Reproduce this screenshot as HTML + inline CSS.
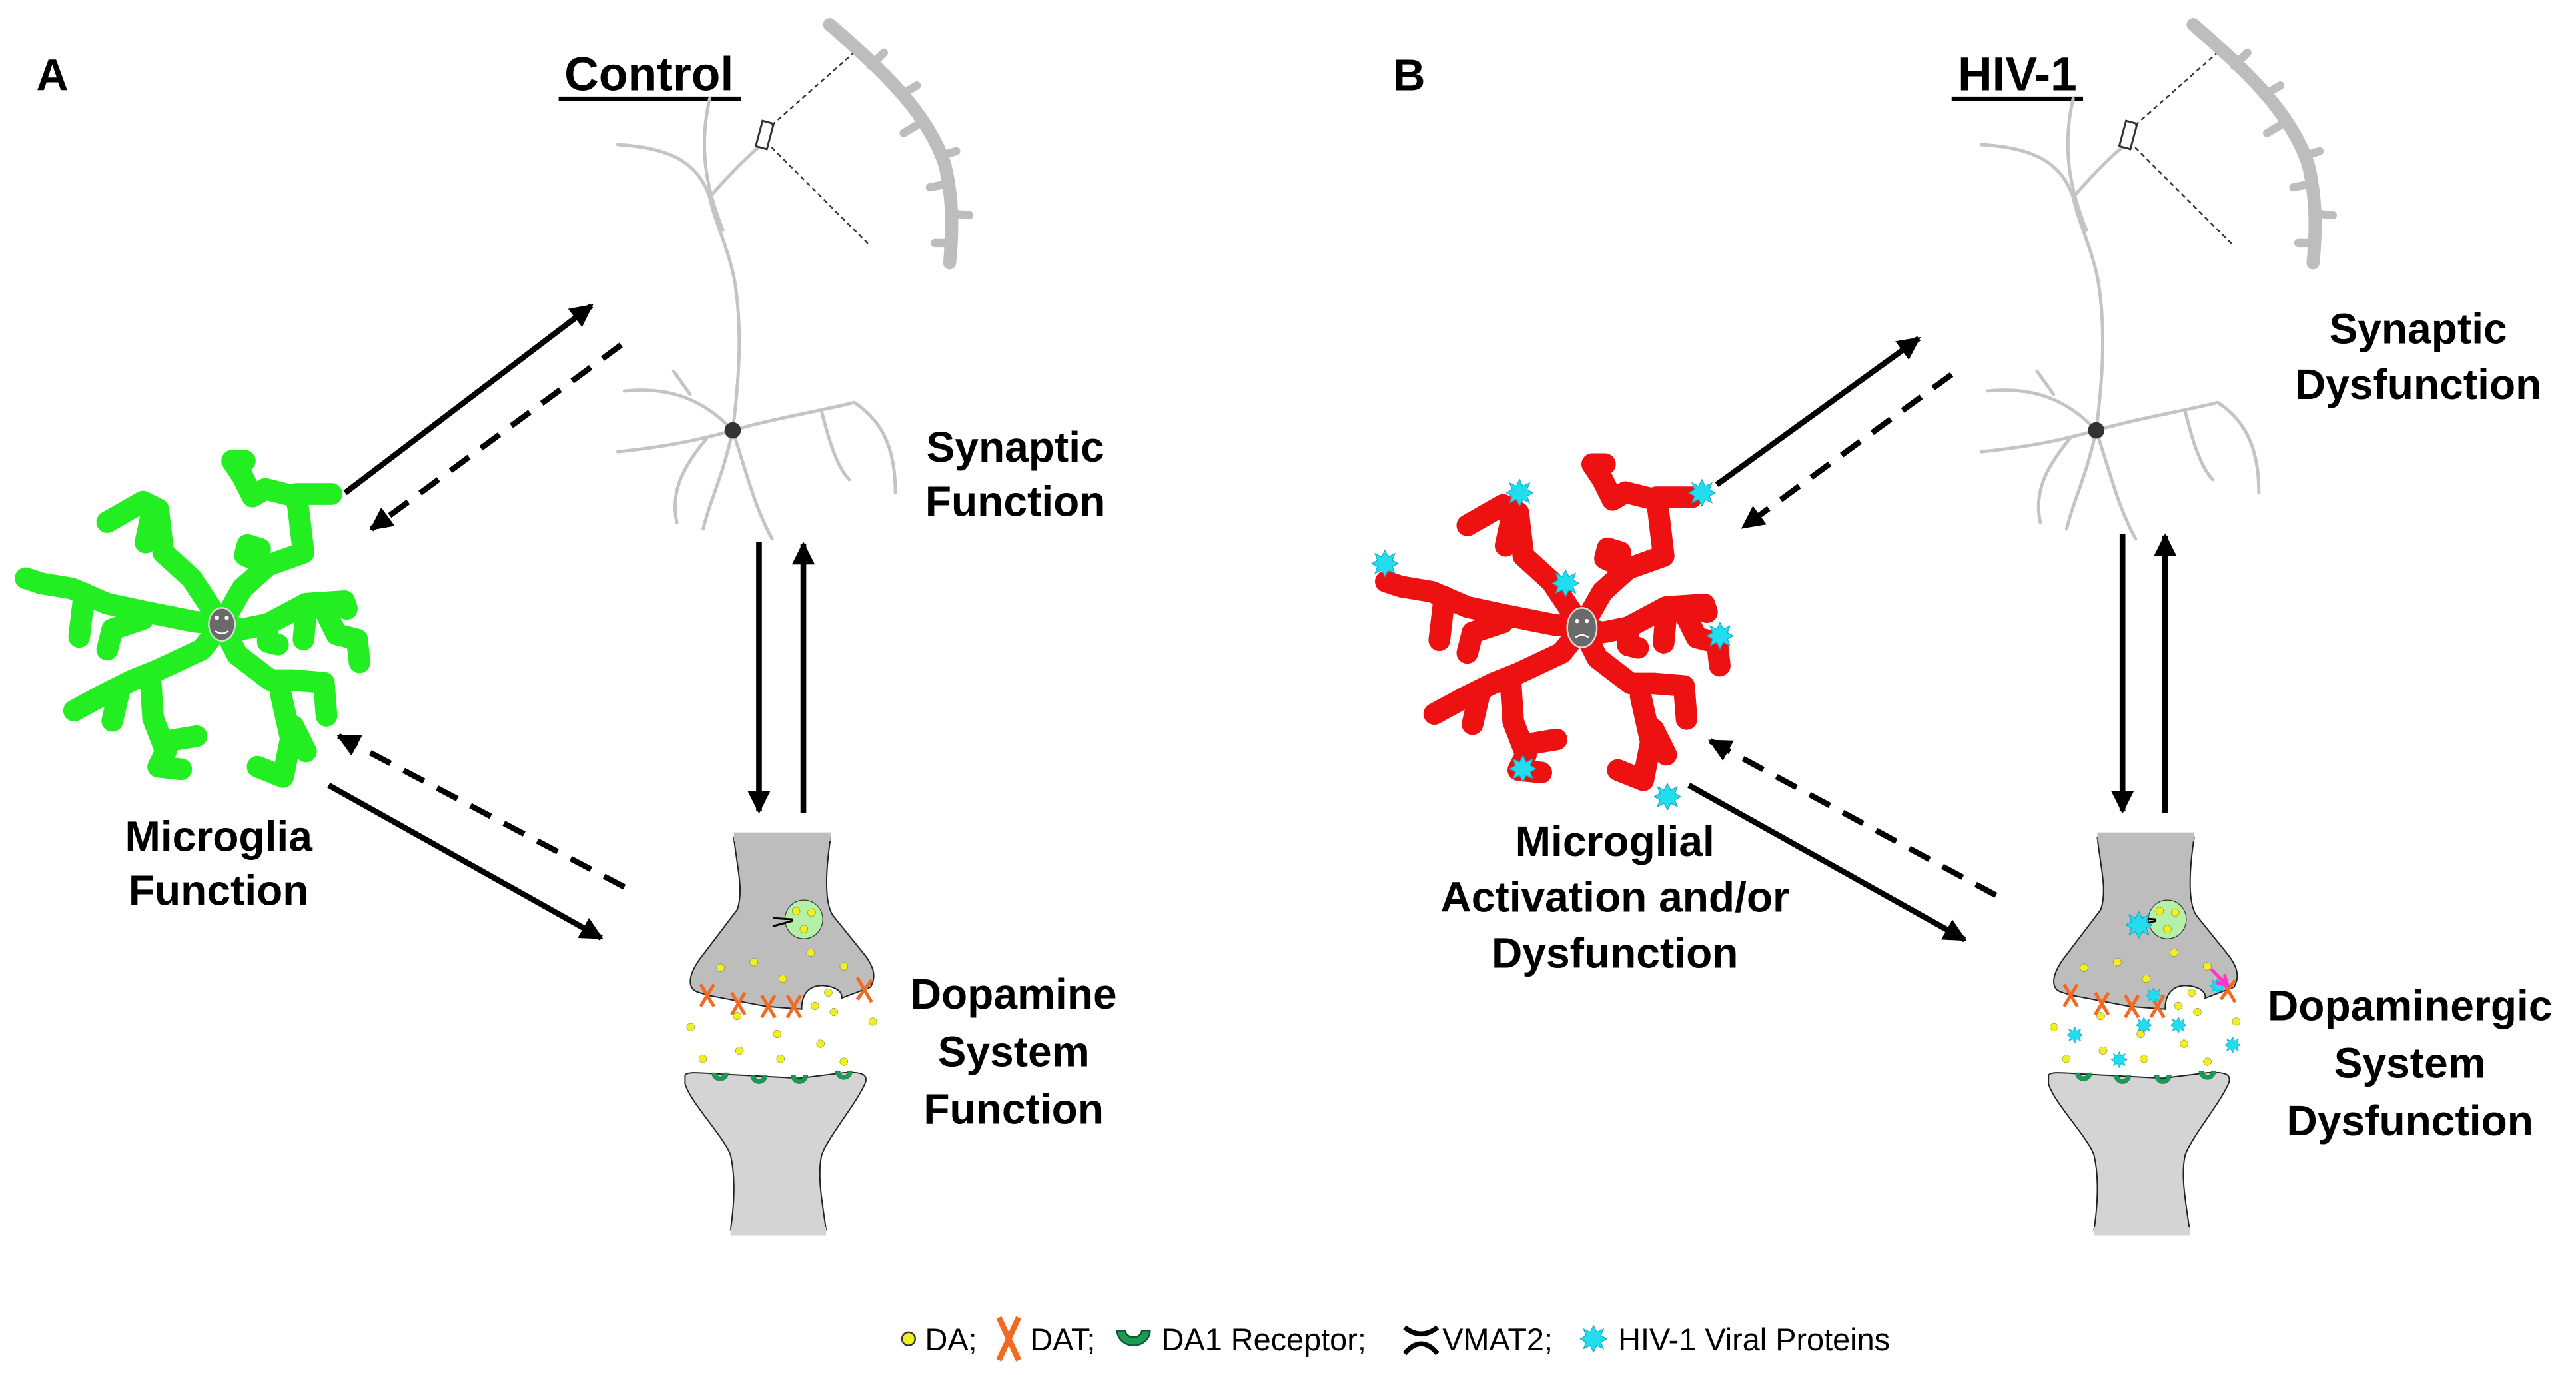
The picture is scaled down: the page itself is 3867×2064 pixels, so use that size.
<!DOCTYPE html>
<html><head><meta charset="utf-8"><style>
html,body{margin:0;padding:0;background:#fff;}
svg{display:block;}
text{font-family:"Liberation Sans",Arial,sans-serif;font-weight:bold;fill:#000;}
</style></head><body>
<svg xmlns="http://www.w3.org/2000/svg" width="3867" height="2064" viewBox="0 0 1568 837" font-family="Liberation Sans, Arial, sans-serif">
<defs>
<marker id="ah" viewBox="0 0 10 10" refX="9" refY="5" markerWidth="4" markerHeight="4" orient="auto" markerUnits="strokeWidth">
<path d="M0,0 L10,5 L0,10 Z" fill="#000"/></marker>
<g id="star"><polygon points="0,-8 2,-4 6,-6 4.5,-2 8,0 4.5,2 6,6 2,4 0,8 -2,4 -6,6 -4.5,2 -8,0 -4.5,-2 -6,-6 -2,-4" fill="#22ddee" stroke="#11aacc" stroke-width="0.5"/></g>
<g id="neuron" fill="none" stroke="#c4c4c4" stroke-width="2" stroke-linecap="round">
<path d="M446,262 C450,230 452,200 447,170 C443,150 435,135 432,120"/>
<path d="M432,120 C425,100 410,90 376,88"/>
<path d="M432,120 C445,105 455,95 465,87"/>
<path d="M440,140 C430,115 425,90 432,60"/>
<path d="M446,262 C430,245 410,235 380,238"/>
<path d="M420,240 L410,226"/>
<path d="M446,262 C425,268 405,272 376,275"/>
<path d="M430,267 C415,285 408,300 412,318"/>
<path d="M446,262 C440,290 432,305 428,322"/>
<path d="M446,262 C455,290 460,310 470,328"/>
<path d="M446,262 C470,255 500,250 520,245 C535,255 545,270 545,300"/>
<path d="M500,250 C505,270 510,285 517,292"/>
<circle cx="446" cy="262" r="5" fill="#333" stroke="none"/>
<rect x="462" y="74" width="7" height="16" transform="rotate(15 465 82)" fill="#fff" stroke="#333" stroke-width="1.2"/>
<path d="M470,76 L522,30 M470,90 L530,150" stroke="#333" stroke-width="1" stroke-dasharray="2,3"/>
<path d="M505,15 C540,45 565,70 575,100 C580,120 580,140 578,160" stroke="#bdbdbd" stroke-width="8"/>
<path d="M530,40 l8,-8 M548,58 l10,-6 M560,75 l-10,6 M572,95 l10,-3 M576,112 l-10,2 M580,130 l10,1 M579,148 l-10,0" stroke="#bdbdbd" stroke-width="5"/>
</g>
<g id="glia" fill="none" stroke-width="85" stroke-linecap="round" stroke-linejoin="round">
<path d="M870,880 L750,700 L640,600 L620,430 L560,400 L420,480"/>
<path d="M600,420 L570,560"/>
<path d="M870,880 L950,740 L1050,650 L1190,600 L1170,430 L1160,370 L1300,370"/>
<path d="M1160,380 L1040,350 L990,380 L950,300 L910,240 L960,240"/>
<path d="M1050,650 L960,610 L970,570 L1020,585"/>
<path d="M870,880 L760,870 L560,830 L420,800 L280,740 L160,720 L100,700"/>
<path d="M330,760 L310,930"/>
<path d="M560,860 L440,900 L420,980"/>
<path d="M870,880 L950,900 L1050,880 L1200,800 L1350,790 L1360,820"/>
<path d="M1200,830 L1190,940"/>
<path d="M1270,820 L1320,920 L1400,940 L1410,1030"/>
<path d="M1050,880 L1050,950 L1090,960"/>
<path d="M870,880 L790,980 L620,1060 L520,1100 L400,1160 L290,1220"/>
<path d="M470,1130 L440,1260"/>
<path d="M590,1100 L600,1250 L650,1380 L620,1440 L710,1450"/>
<path d="M650,1340 L770,1320"/>
<path d="M870,880 L930,1000 L1060,1100 L1150,1100 L1270,1110 L1280,1240"/>
<path d="M1100,1150 L1140,1330 L1110,1480 L1010,1440"/>
<path d="M1150,1280 L1200,1380"/>
</g>
<g id="syn">
<g transform="translate(385.2,486.6) scale(0.1352,0.168)">
<path d="M455,140 C470,250 500,330 470,400 L300,580 C240,650 250,690 300,700 L340,710 L600,750 L760,760 C760,700 800,670 865,675 C920,680 945,700 940,720 L1070,680 C1100,640 1080,600 1040,560 L900,420 C860,370 870,250 890,140 Z" fill="#bdbdbd" stroke="#222" stroke-width="2" vector-effect="non-scaling-stroke"/>
<rect x="455" y="120" width="435" height="30" fill="#bdbdbd"/>
<path d="M235,1000 C240,985 300,990 395,995 L750,1010 L950,990 C1040,985 1060,1000 1045,1030 C1000,1110 880,1220 850,1290 C830,1360 850,1450 870,1560 L440,1560 C460,1450 460,1360 440,1290 C410,1220 260,1100 235,1030 Z" fill="#d4d4d4" stroke="#222" stroke-width="2" vector-effect="non-scaling-stroke"/>
<rect x="440" y="1550" width="430" height="30" fill="#d4d4d4"/>
<ellipse cx="770" cy="435" rx="85" ry="70" fill="#b5f0a8" stroke="#333" stroke-width="1.2" vector-effect="non-scaling-stroke"/>
<path d="M630,430 L720,435 M630,460 L720,440" stroke="#000" stroke-width="3" vector-effect="non-scaling-stroke"/>
<g fill="#f0f020" stroke="#333" stroke-width="1">
<ellipse cx="735" cy="405" rx="18" ry="14"/><ellipse cx="805" cy="410" rx="18" ry="14"/><ellipse cx="770" cy="470" rx="18" ry="14"/>
<ellipse cx="395" cy="610" rx="18" ry="14"/><ellipse cx="545" cy="590" rx="18" ry="14"/><ellipse cx="675" cy="650" rx="18" ry="14"/><ellipse cx="800" cy="555" rx="18" ry="14"/><ellipse cx="950" cy="605" rx="18" ry="14"/><ellipse cx="880" cy="700" rx="18" ry="14"/><ellipse cx="820" cy="748" rx="18" ry="14"/><ellipse cx="905" cy="770" rx="18" ry="14"/><ellipse cx="470" cy="785" rx="18" ry="14"/><ellipse cx="260" cy="825" rx="18" ry="14"/><ellipse cx="650" cy="850" rx="18" ry="14"/><ellipse cx="1080" cy="805" rx="18" ry="14"/><ellipse cx="845" cy="885" rx="18" ry="14"/><ellipse cx="480" cy="910" rx="18" ry="14"/><ellipse cx="315" cy="940" rx="18" ry="14"/><ellipse cx="665" cy="940" rx="18" ry="14"/><ellipse cx="950" cy="950" rx="18" ry="14"/>
</g>
<g fill="#1a9a55" stroke="#0b5a30" stroke-width="1" vector-effect="non-scaling-stroke">
<path d="M355,990 A38,30 0 0 0 431,990 L410,990 A17,14 0 0 1 376,990 Z"/>
<path d="M530,1000 A38,30 0 0 0 606,1000 L585,1000 A17,14 0 0 1 551,1000 Z"/>
<path d="M712,1000 A38,30 0 0 0 788,1000 L767,1000 A17,14 0 0 1 733,1000 Z"/>
<path d="M912,985 A38,30 0 0 0 988,985 L967,985 A17,14 0 0 1 933,985 Z"/>
</g>
<g stroke="#f26a22" stroke-width="5" fill="none">
<path d="M305,670 L365,750 M365,670 L305,750" vector-effect="non-scaling-stroke"/><path d="M445,700 L505,780 M505,700 L445,780" vector-effect="non-scaling-stroke"/><path d="M580,710 L640,790 M640,710 L580,790" vector-effect="non-scaling-stroke"/><path d="M695,710 L755,790 M755,710 L695,790" vector-effect="non-scaling-stroke"/><path d="M1010,645 L1075,735 M1075,655 L1010,725" vector-effect="non-scaling-stroke"/>
</g>
</g>
</g>
</defs>

<!-- Panel A -->
<text x="22" y="55" font-size="27">A</text>
<text x="395" y="55" font-size="29" text-anchor="middle">Control</text>
<line x1="340" y1="60" x2="451" y2="60" stroke="#000" stroke-width="2.5"/>
<use href="#neuron"/>
<use href="#glia" transform="translate(0,243.3) scale(0.1552)" stroke="#22ee22"/>
<ellipse cx="135" cy="380" rx="8" ry="10" fill="#6a6a6a" stroke="#ddd" stroke-width="1"/>
<circle cx="132" cy="376" r="1.3" fill="#fff"/><circle cx="138" cy="376" r="1.3" fill="#fff"/>
<path d="M131,384 Q135,387 139,384" stroke="#fff" stroke-width="1" fill="none"/>
<use href="#syn"/>

<g stroke="#000" stroke-width="3.5" fill="none">
<line x1="210" y1="300" x2="360" y2="186" marker-end="url(#ah)"/>
<line x1="378" y1="210" x2="226" y2="322" stroke-dasharray="14,9" marker-end="url(#ah)"/>
<line x1="380" y1="540" x2="206" y2="448" stroke-dasharray="14,9" marker-end="url(#ah)"/>
<line x1="200" y1="478" x2="366" y2="571" marker-end="url(#ah)"/>
<line x1="462" y1="330" x2="462" y2="494" marker-end="url(#ah)"/>
<line x1="489" y1="495" x2="489" y2="331" marker-end="url(#ah)"/>
</g>
<text font-size="26" text-anchor="middle"><tspan x="618" y="281">Synaptic</tspan><tspan x="618" y="314">Function</tspan></text>
<text font-size="26" text-anchor="middle"><tspan x="133" y="518">Microglia</tspan><tspan x="133" y="551">Function</tspan></text>
<text font-size="26" text-anchor="middle"><tspan x="617" y="614">Dopamine</tspan><tspan x="617" y="649">System</tspan><tspan x="617" y="684">Function</tspan></text>

<!-- Panel B -->
<text x="848" y="55" font-size="27">B</text>
<text x="1228" y="55" font-size="29" text-anchor="middle">HIV-1</text>
<line x1="1188" y1="60" x2="1268" y2="60" stroke="#000" stroke-width="2.5"/>
<use href="#neuron" transform="translate(830,0)"/>
<use href="#glia" transform="translate(828,245.3) scale(0.1552)" stroke="#ee1111"/>
<ellipse cx="963" cy="382" rx="9" ry="12" fill="#6a6a6a" stroke="#ddd" stroke-width="1"/>
<circle cx="960" cy="378" r="1.3" fill="#fff"/><circle cx="966" cy="378" r="1.3" fill="#fff"/>
<path d="M959,388 Q963,385 967,388" stroke="#fff" stroke-width="1" fill="none"/>
<use href="#syn" transform="translate(830,0)"/>
<use href="#star" x="925" y="300"/><use href="#star" x="1036" y="300"/><use href="#star" x="843" y="343"/><use href="#star" x="953" y="355"/><use href="#star" x="1047" y="387"/><use href="#star" x="927" y="468"/><use href="#star" x="1015" y="485"/>
<use href="#star" x="1302" y="563"/>
<g transform="scale(0.6)"><use href="#star" x="2105" y="1050"/><use href="#star" x="2175" y="1040"/><use href="#star" x="2185" y="1010"/><use href="#star" x="2210" y="1040"/><use href="#star" x="2250" y="1000"/><use href="#star" x="2150" y="1075"/><use href="#star" x="2265" y="1060"/></g>
<path d="M1346,590 L1356,600 M1349,598 L1356,600 L1354,593" stroke="#ff33cc" stroke-width="2" fill="none"/>

<g stroke="#000" stroke-width="3.5" fill="none">
<line x1="1045" y1="295" x2="1168" y2="206" marker-end="url(#ah)"/>
<line x1="1188" y1="228" x2="1061" y2="321" stroke-dasharray="14,9" marker-end="url(#ah)"/>
<line x1="1215" y1="545" x2="1041" y2="451" stroke-dasharray="14,9" marker-end="url(#ah)"/>
<line x1="1028" y1="478" x2="1196" y2="572" marker-end="url(#ah)"/>
<line x1="1292" y1="325" x2="1292" y2="494" marker-end="url(#ah)"/>
<line x1="1318" y1="495" x2="1318" y2="326" marker-end="url(#ah)"/>
</g>
<text font-size="26" text-anchor="middle"><tspan x="1472" y="209">Synaptic</tspan><tspan x="1472" y="243">Dysfunction</tspan></text>
<text font-size="26" text-anchor="middle"><tspan x="983" y="521">Microglial</tspan><tspan x="983" y="555">Activation and/or</tspan><tspan x="983" y="589">Dysfunction</tspan></text>
<text font-size="26" text-anchor="middle"><tspan x="1467" y="621">Dopaminergic</tspan><tspan x="1467" y="656">System</tspan><tspan x="1467" y="691">Dysfunction</tspan></text>

<!-- Legend -->
<circle cx="553" cy="815" r="4" fill="#f0f020" stroke="#333" stroke-width="1"/>
<text x="563" y="822" font-size="19" style="font-weight:normal">DA;</text>
<path d="M608,802 L620,828 M620,802 L608,828" stroke="#f26a22" stroke-width="3.5"/>
<text x="627" y="822" font-size="19" style="font-weight:normal">DAT;</text>
<path d="M680,810 A10,9 0 0 0 700,810 L695,810 A5,4 0 0 1 685,810 Z" fill="#1a9a55" stroke="#0b5a30"/>
<text x="707" y="822" font-size="19" style="font-weight:normal">DA1 Receptor;</text>
<path d="M855,808 Q865,816 875,808 M855,824 Q865,812 875,824" stroke="#000" stroke-width="3" fill="none"/>
<text x="878" y="822" font-size="19" style="font-weight:normal">VMAT2;</text>
<use href="#star" x="970" y="815"/>
<text x="985" y="822" font-size="19" style="font-weight:normal">HIV-1 Viral Proteins</text>
</svg>
</body></html>
